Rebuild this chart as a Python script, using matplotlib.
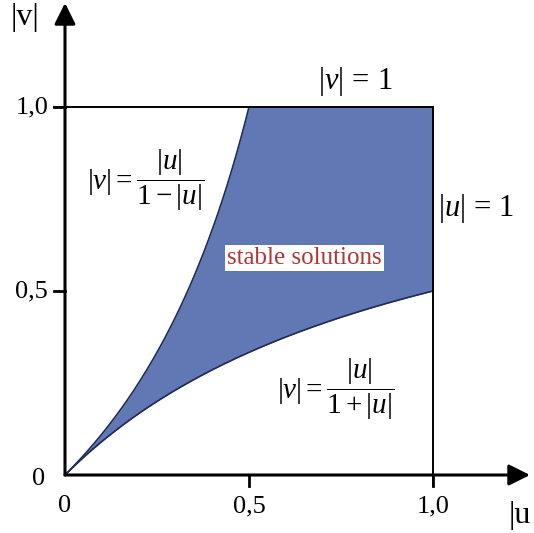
import numpy as np
import matplotlib
matplotlib.use("Agg")
import matplotlib.pyplot as plt

plt.rcParams['font.family'] = ['Liberation Serif', 'DejaVu Serif']
plt.rcParams['mathtext.fontset'] = 'custom'
plt.rcParams['mathtext.rm'] = 'Liberation Serif'
plt.rcParams['mathtext.it'] = 'Liberation Serif:italic'

# stability region boundaries |v| = |u|/(1+|u|) and |v| = |u|/(1-|u|), capped at |v| = 1
u_vals = np.linspace(0.0, 1.0, 401)
lower = u_vals / (1 + u_vals)
upper = np.minimum(u_vals / np.maximum(1 - u_vals, 1e-9), 1.0)
u_upper = np.linspace(0.0, 0.5, 201)
v_upper = u_upper / (1 - u_upper)

x_ticks = [0.0, 0.5, 1.0]
x_tick_labels = ['0', '0,5', '1,0']
y_ticks = [0.5, 1.0]
y_tick_labels = ['0,5', '1,0']

fill_color = '#6178b5'
edge_color = '#1f2a55'

fig = plt.figure(figsize=(5.34, 5.33), dpi=100)
ax = fig.add_axes([0, 0, 1, 1])
scale = 368.0
ax.set_xlim(-65 / scale, (534 - 65) / scale)
ax.set_ylim(-(533 - 475) / scale, 475 / scale)
ax.axis('off')

ax.fill_between(u_vals, lower, upper, color=fill_color, lw=0, zorder=1)
ax.plot(u_vals, lower, color=edge_color, lw=1.2, zorder=2)
ax.plot(u_upper, v_upper, color=edge_color, lw=1.2, zorder=2)

# unit box and tick marks
ax.plot([-0.03, 1.0], [1.0, 1.0], color='black', lw=1.4, zorder=3)
ax.plot([1.0, 1.0], [-0.03, 1.0], color='black', lw=1.4, zorder=3)
ax.plot([-0.03, 0.0], [0.5, 0.5], color='black', lw=2.0, zorder=3)
ax.plot([0.5, 0.5], [-0.03, 0.0], color='black', lw=2.0, zorder=3)
ax.plot([-0.03, 0.0], [1.0, 1.0], color='black', lw=2.0, zorder=3)
ax.plot([1.0, 1.0], [-0.03, 0.0], color='black', lw=2.0, zorder=3)

# axes with arrows
arrow = dict(arrowstyle='-|>', color='black', lw=2.2, mutation_scale=32, shrinkA=0, shrinkB=0)
ax.annotate('', xy=((530 - 65) / scale, 0), xytext=(0, 0), arrowprops=arrow, zorder=4)
ax.annotate('', xy=(0, (475 - 3) / scale), xytext=(0, 0), arrowprops=arrow, zorder=4)

for x, lab in zip(x_ticks, x_tick_labels):
    ax.text(x, -0.055, lab, ha='center', va='top', fontsize=19)
for y, lab in zip(y_ticks, y_tick_labels):
    ax.text(-0.046, y, lab, ha='right', va='center', fontsize=19)
ax.text(-0.055, -0.01, '0', ha='right', va='center', fontsize=19)

ax.text(-0.109, 1.242, '|v|', ha='center', va='center', fontsize=23)
ax.text(1.236, -0.109, '|u', ha='center', va='center', fontsize=23)

bar_v = r'\mathrm{|}v\mathrm{|}'
bar_u = r'\mathrm{|}u\mathrm{|}'
ax.text(0.22, 0.80, rf'${bar_v} = \dfrac{{{bar_u}}}{{1-{bar_u}}}$',
        ha='center', va='center', fontsize=21)
ax.text(0.735, 0.233, rf'${bar_v} = \dfrac{{{bar_u}}}{{1+{bar_u}}}$',
        ha='center', va='center', fontsize=21)
ax.text(0.79, 1.07, rf'${bar_v}\,=\,1$', ha='center', va='center', fontsize=22)
ax.text(1.118, 0.725, rf'${bar_u}\,=\,1$', ha='center', va='center', fontsize=22)

ax.text(0.65, 0.59, 'stable solutions', ha='center', va='center', fontsize=18,
        color='#b23434', zorder=5,
        bbox=dict(facecolor='white', edgecolor='none', pad=1.5))

fig.savefig('out.png', dpi=100)
